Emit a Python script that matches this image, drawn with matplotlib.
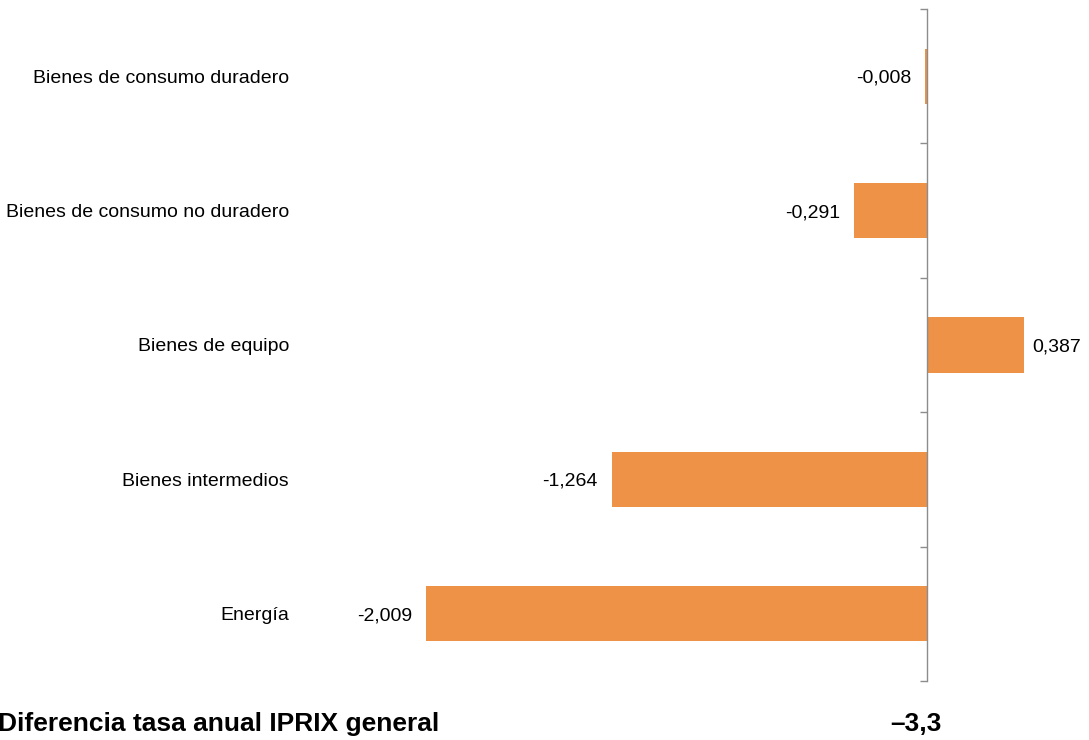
import numpy as np
import matplotlib
matplotlib.use('Agg')
import matplotlib.pyplot as plt
import matplotlib.transforms as mtransforms

plt.rcParams['font.family'] = ['Liberation Sans', 'DejaVu Sans']

# data, top to bottom
categories = ['Bienes de consumo duradero', 'Bienes de consumo no duradero',
              'Bienes de equipo', 'Bienes intermedios', 'Energía']
values = [-0.008, -0.291, 0.387, -1.264, -2.009]
value_labels = ['-0,008', '-0,291', '0,387', '-1,264', '-2,009']
total_label = 'Diferencia tasa anual IPRIX general'
total_value = '–3,3'

BarColor = '#ED9247'
W, H = 1089, 740

fig = plt.figure(figsize=(W / 100, H / 100), dpi=100)
# axes placed in pixel terms: zero line at x=927, ~249.5 px per unit
x0, x1 = -2.5, 0.65
ppu = 249.5
left_px = 927 - (0 - x0) * ppu
width_px = (x1 - x0) * ppu
ax = fig.add_axes([left_px / W, 1 - 681 / H, width_px / W, (681 - 9) / H])

ypos = np.arange(len(categories))
ax.barh(ypos, values, height=0.41, color=BarColor, zorder=2)
ax.set_xlim(x0, x1)
ax.set_ylim(len(categories) - 0.5, -0.5)

for s in ['top', 'right', 'bottom']:
    ax.spines[s].set_visible(False)
ax.spines['left'].set_position(('data', 0))
ax.spines['left'].set_color('#8c8c8c')
ax.spines['left'].set_linewidth(1.0)
ax.set_xticks([])
ax.set_yticks(np.arange(-0.5, len(categories), 1.0))
ax.set_yticklabels([])
ax.tick_params(axis='y', direction='out', length=5, color='#8c8c8c', width=1.0)

# value labels next to bar ends
off = mtransforms.offset_copy
for y, v, lab in zip(ypos, values, value_labels):
    if v < 0:
        tr = off(ax.transData, fig=fig, x=-14, y=-2, units='dots')
        ax.text(v, y, lab, ha='right', va='center', fontsize=14, transform=tr)
    else:
        tr = off(ax.transData, fig=fig, x=9, y=-2, units='dots')
        ax.text(v, y, lab, ha='left', va='center', fontsize=14, transform=tr)

# category labels, right aligned at x=289 px
blend = mtransforms.blended_transform_factory(fig.transFigure, ax.transData)
blend = off(blend, fig=fig, x=0, y=-2, units='dots')
for y, c in zip(ypos, categories):
    fig.text(289 / W, y, c, ha='right', va='center', fontsize=14, transform=blend)

# bottom total line
fig.text(-2 / W, 1 - 731 / H, total_label, ha='left', va='baseline',
         fontsize=19, fontweight='bold')
fig.text(916 / W, 1 - 731 / H, total_value, ha='center', va='baseline',
         fontsize=19, fontweight='bold')

fig.savefig('out.png', dpi=100)
